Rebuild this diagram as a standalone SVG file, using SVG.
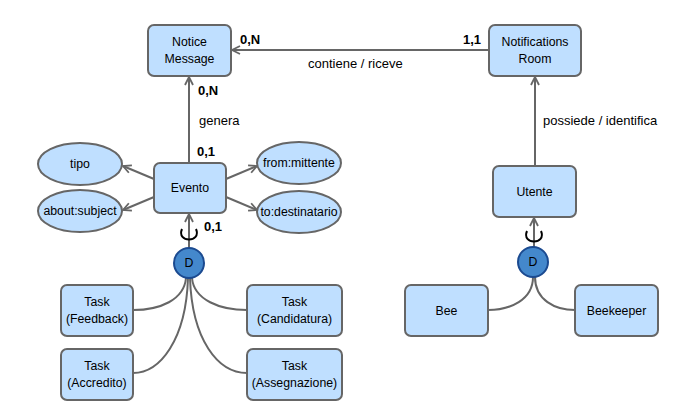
<svg xmlns="http://www.w3.org/2000/svg" width="700" height="420" viewBox="0 0 700 420">
<defs>
<style>
.box{fill:#bfdfff;stroke:#666;stroke-width:2}
.d{fill:#4488cc;stroke:#1b4a90;stroke-width:2}
.t{font-family:"Liberation Sans",Arial,sans-serif;font-size:12.3px;fill:#000;text-anchor:middle}
.lbl{font-family:"Liberation Sans",Arial,sans-serif;font-size:13px;fill:#000}
.b{font-weight:bold}
.ln{fill:none;stroke:#666;stroke-width:2}
.curl{fill:none;stroke:#000;stroke-width:2}
</style>
<marker id="arr" viewBox="0 0 10 10" refX="9" refY="5" markerWidth="10" markerHeight="10" markerUnits="userSpaceOnUse" orient="auto">
<path d="M1,1 L9,5 L1,9" fill="none" stroke="#666" stroke-width="1.8"/>
</marker>
</defs>
<rect width="700" height="420" fill="#fff"/>
<g id="connectors">
<path class="ln" d="M489,50 L232,50" marker-end="url(#arr)"/>
<path class="ln" d="M189,163 L189,77" marker-end="url(#arr)"/>
<path class="ln" d="M535,166 L535,77" marker-end="url(#arr)"/>
<path class="ln" d="M154,179 L123,166" marker-end="url(#arr)"/>
<path class="ln" d="M154,197 L123,210" marker-end="url(#arr)"/>
<path class="ln" d="M226,179 L257,166" marker-end="url(#arr)"/>
<path class="ln" d="M226,197 L257,210" marker-end="url(#arr)"/>
<path class="ln" d="M189,248 L189,214" marker-end="url(#arr)"/>
<path class="ln" d="M534,247 L534,218" marker-end="url(#arr)"/>
<path class="ln" d="M186,278 C184,300 160,310 133,310"/>
<path class="ln" d="M188,278 C186,340 160,373 133,373"/>
<path class="ln" d="M192,278 C194,300 220,310 247,310"/>
<path class="ln" d="M190,278 C192,340 218,373 247,373"/>
<path class="ln" d="M533,277 C533,300 510,310 488,310"/>
<path class="ln" d="M535,277 C535,300 555,310 575,310"/>
<path class="curl" d="M182,229 C176,243 202,243 196,229"/>
<path class="curl" d="M527,231 C521,245 547,245 541,231"/>
<text class="lbl b" x="240" y="44">0,N</text>
<text class="lbl b" x="463" y="44">1,1</text>
<text class="lbl" x="308" y="68">contiene / riceve</text>
<text class="lbl b" x="198" y="95">0,N</text>
<text class="lbl" x="199" y="125">genera</text>
<text class="lbl b" x="197" y="156">0,1</text>
<text class="lbl b" x="204" y="231">0,1</text>
<text class="lbl" x="543" y="125">possiede / identifica</text>
</g>
<g id="notice"><rect class="box" x="148" y="25" width="83" height="51" rx="6"/><text class="t" x="189.5" y="46">Notice</text><text class="t" x="189.5" y="63">Message</text></g>
<g id="room"><rect class="box" x="489" y="25" width="92" height="51" rx="6"/><text class="t" x="535" y="46">Notifications</text><text class="t" x="535" y="63">Room</text></g>
<g id="evento"><rect class="box" x="154" y="163" width="72" height="50" rx="6"/><text class="t" x="190" y="192">Evento</text></g>
<g id="tipo"><ellipse class="box" cx="80" cy="164" rx="42" ry="21"/><text class="t" x="80" y="168">tipo</text></g>
<g id="about"><ellipse class="box" cx="80" cy="211" rx="42" ry="21"/><text class="t" x="80" y="215">about:subject</text></g>
<g id="from"><ellipse class="box" cx="299" cy="163" rx="42" ry="21"/><text class="t" x="299" y="167">from:mittente</text></g>
<g id="to"><ellipse class="box" cx="299" cy="212" rx="42" ry="21"/><text class="t" x="299" y="216">to:destinatario</text></g>
<g id="d1"><circle class="d" cx="189" cy="263" r="15"/><text class="t" x="189" y="267">D</text></g>
<g id="utente"><rect class="box" x="493" y="166" width="83" height="51" rx="6"/><text class="t" x="534.5" y="196">Utente</text></g>
<g id="d2"><circle class="d" cx="533" cy="262" r="15"/><text class="t" x="533" y="266">D</text></g>
<g id="bee"><rect class="box" x="405" y="285" width="83" height="51" rx="6"/><text class="t" x="446.5" y="315">Bee</text></g>
<g id="beekeeper"><rect class="box" x="575" y="285" width="83" height="51" rx="6"/><text class="t" x="616.5" y="315">Beekeeper</text></g>
<g id="feedback"><rect class="box" x="61" y="285" width="72" height="51" rx="6"/><text class="t" x="97" y="306">Task</text><text class="t" x="97" y="323">(Feedback)</text></g>
<g id="accredito"><rect class="box" x="61" y="349" width="72" height="51" rx="6"/><text class="t" x="97" y="370">Task</text><text class="t" x="97" y="387">(Accredito)</text></g>
<g id="candidatura"><rect class="box" x="247" y="285" width="95" height="51" rx="6"/><text class="t" x="294.5" y="306">Task</text><text class="t" x="294.5" y="323">(Candidatura)</text></g>
<g id="assegnazione"><rect class="box" x="247" y="349" width="95" height="51" rx="6"/><text class="t" x="294.5" y="370">Task</text><text class="t" x="294.5" y="387">(Assegnazione)</text></g>
</svg>
